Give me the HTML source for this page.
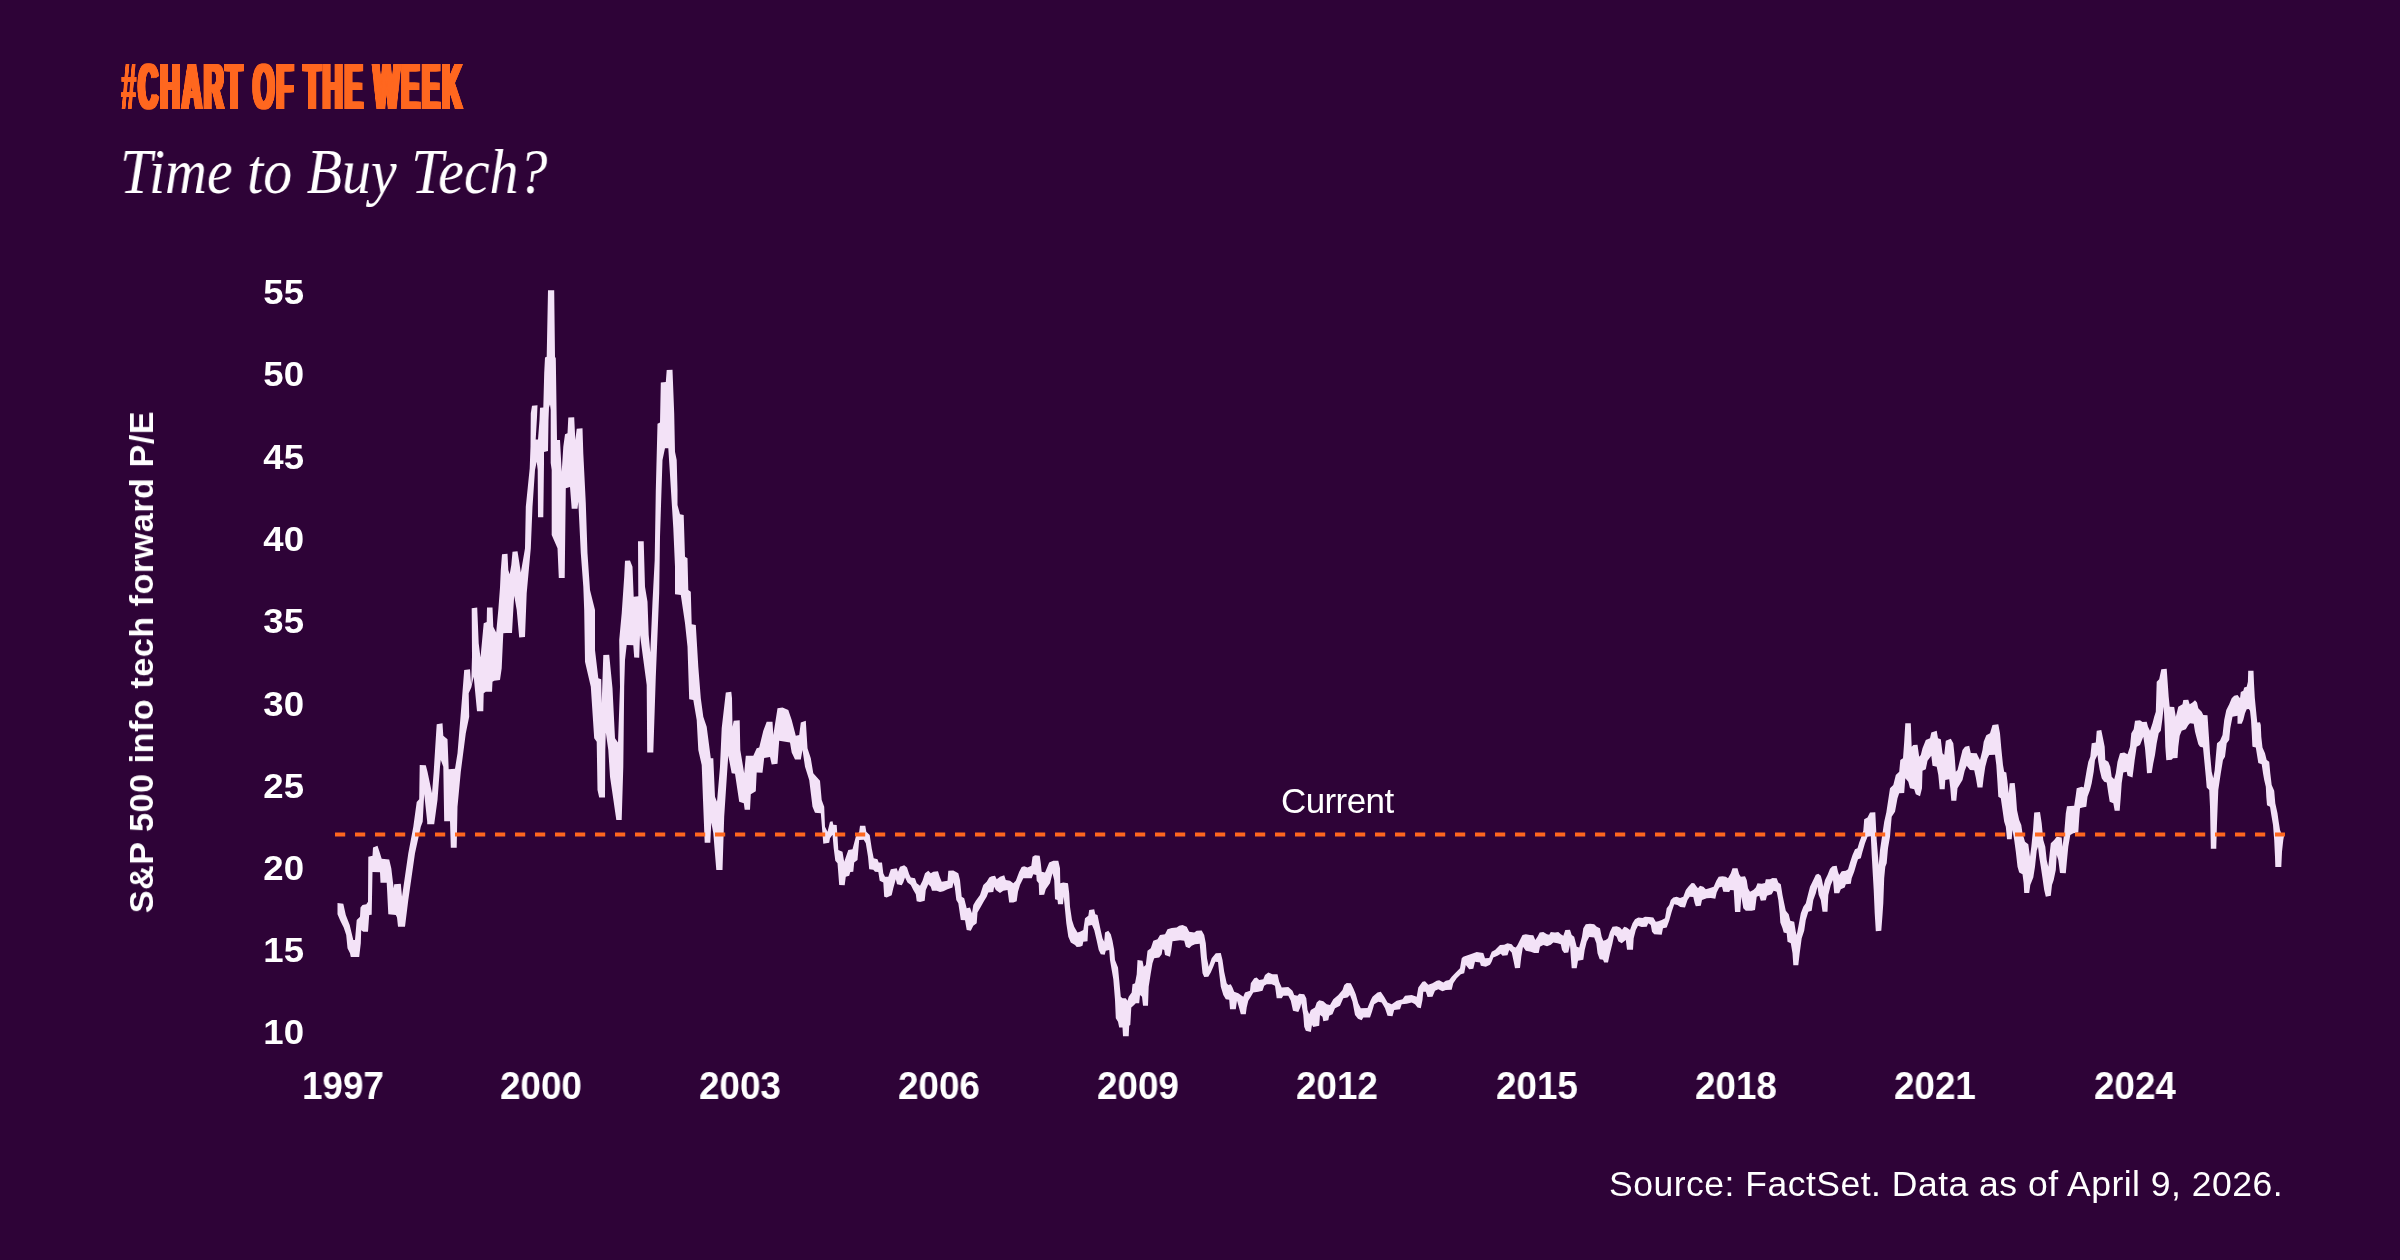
<!DOCTYPE html>
<html>
<head>
<meta charset="utf-8">
<title>Chart of the Week</title>
<style>
html,body{margin:0;padding:0;}
body{width:2400px;height:1260px;background:#2e0337;overflow:hidden;position:relative;font-family:"Liberation Sans",sans-serif;color:#fff;}
.abs{position:absolute;white-space:nowrap;line-height:1;will-change:transform;}
#kicker{left:121px;top:55px;font-size:64px;font-weight:bold;color:#ff671f;transform-origin:0 0;transform:scaleX(0.4265);letter-spacing:5px;word-spacing:-2.5px;text-shadow:2.5px 0 0 #ff671f,-2.5px 0 0 #ff671f,5px 0 0 #ff671f,-5px 0 0 #ff671f;}
#title{left:120px;top:139.6px;font-family:"Liberation Serif",serif;font-style:italic;font-size:64px;color:#fff;transform-origin:0 0;transform:scaleX(0.905);}
.yl{width:60px;text-align:right;left:243.5px;font-size:35px;font-weight:bold;transform:scaleX(1.045);transform-origin:100% 50%;margin-top:-0.1px;}
.xl{width:120px;text-align:center;font-size:38px;font-weight:bold;top:1066.5px;transform:scaleX(0.97);margin-left:-0.5px;}
#ytitle{left:141px;top:661.5px;font-size:34px;font-weight:bold;letter-spacing:0.6px;transform:translate(-50%,-50%) rotate(-90deg);}
#cur{left:1281px;top:782.5px;font-size:35px;letter-spacing:-0.6px;}
#src{left:1609px;top:1167px;font-size:35.5px;letter-spacing:0.5px;}
svg{position:absolute;left:0;top:0;}
</style>
</head>
<body>
<div id="kicker" class="abs"><span style="text-shadow:2px 0 0 #ff671f,-2px 0 0 #ff671f">#</span>CHART OF THE WEEK</div>
<div id="title" class="abs">Time to Buy Tech?</div>
<div id="ytitle" class="abs">S&amp;P 500 info tech forward P/E</div>
<div class="abs yl" style="top:274px">55</div>
<div class="abs yl" style="top:356px">50</div>
<div class="abs yl" style="top:439px">45</div>
<div class="abs yl" style="top:521px">40</div>
<div class="abs yl" style="top:603px">35</div>
<div class="abs yl" style="top:686px">30</div>
<div class="abs yl" style="top:768px">25</div>
<div class="abs yl" style="top:850px">20</div>
<div class="abs yl" style="top:932px">15</div>
<div class="abs yl" style="top:1014px">10</div>
<div class="abs xl" style="left:283px">1997</div>
<div class="abs xl" style="left:481px">2000</div>
<div class="abs xl" style="left:680px">2003</div>
<div class="abs xl" style="left:879px">2006</div>
<div class="abs xl" style="left:1078px">2009</div>
<div class="abs xl" style="left:1277px">2012</div>
<div class="abs xl" style="left:1477px">2015</div>
<div class="abs xl" style="left:1676px">2018</div>
<div class="abs xl" style="left:1875px">2021</div>
<div class="abs xl" style="left:2075px">2024</div>
<div id="cur" class="abs">Current</div>
<div id="src" class="abs">Source: FactSet. Data as of April 9, 2026.</div>
<svg width="2400" height="1260" viewBox="0 0 2400 1260">
<polygon fill="#f3e2f7" stroke="none" points="337.5,903.0 343.3,903.7 345.8,915.0 349.7,925.0 353.3,940.0 355.0,940.0 356.7,920.0 360.0,916.7 360.5,907.5 362.5,905.0 366.3,904.2 368.0,901.7 368.3,856.7 372.5,855.8 373.0,847.5 377.5,845.8 379.5,851.7 381.7,858.7 389.2,859.5 391.3,868.3 393.7,888.3 394.2,884.2 400.8,883.7 402.0,896.7 408.3,853.3 413.3,826.7 416.7,802.0 419.2,799.2 419.7,765.0 425.8,765.3 427.5,771.7 432.0,793.3 433.7,771.7 435.8,738.3 436.7,724.2 442.5,723.3 443.3,735.8 447.5,739.2 448.7,769.2 455.0,768.7 457.5,753.3 460.5,716.7 462.0,698.3 464.2,670.0 470.0,669.2 471.2,684.7 472.0,656.7 471.7,608.3 477.2,607.5 478.7,643.3 480.5,657.5 483.7,623.3 486.7,622.0 487.0,607.5 492.5,607.5 493.3,626.7 496.2,632.5 498.3,610.0 500.0,587.5 500.8,570.0 502.0,554.2 507.5,553.8 508.3,570.0 509.7,574.2 511.3,565.0 512.5,551.7 517.5,551.3 519.2,561.7 520.8,572.5 523.3,558.3 525.0,548.3 525.8,506.7 529.7,468.3 530.5,446.7 530.8,413.3 532.0,405.8 537.5,405.3 537.0,417.0 535.7,439.5 538.0,439.5 539.5,420.0 540.0,407.8 543.3,407.5 544.2,373.3 545.0,357.5 546.7,356.7 548.0,290.3 554.2,290.3 555.0,356.7 555.8,358.3 557.0,440.0 560.0,440.0 561.7,471.7 563.3,446.7 565.0,434.2 567.5,433.3 568.3,417.5 574.2,417.2 575.3,440.0 576.7,428.7 582.5,428.3 583.3,453.3 585.8,503.3 587.5,553.3 590.0,590.0 595.0,610.0 595.0,650.0 598.3,678.3 601.2,679.2 601.7,703.3 603.3,655.0 609.2,654.7 612.5,688.3 615.0,738.3 618.0,742.5 620.0,686.7 619.2,640.0 621.7,613.3 624.2,576.7 625.0,560.8 630.0,560.5 632.5,566.7 633.7,596.7 638.3,596.3 638.0,541.3 643.7,541.3 645.0,586.7 647.5,601.7 648.7,635.0 650.3,652.5 652.5,601.7 654.7,560.0 655.8,490.0 657.5,423.7 660.0,422.5 660.8,382.5 665.8,382.0 666.7,370.0 672.5,369.7 674.2,413.3 675.0,451.7 676.7,460.0 677.5,490.0 677.5,505.0 680.0,514.2 683.7,515.0 685.0,556.7 687.5,558.3 688.3,590.0 690.8,591.7 691.7,624.2 695.8,625.0 698.3,666.7 700.8,698.3 703.3,716.7 706.7,726.7 710.8,758.3 713.3,758.3 715.0,796.7 717.0,801.7 720.0,766.7 721.7,728.3 725.8,692.5 731.3,691.7 732.0,698.3 732.5,726.7 733.7,720.8 739.7,720.3 740.3,750.0 744.2,773.3 745.8,755.8 753.3,755.8 756.7,748.3 759.2,747.5 763.3,730.8 766.7,721.7 772.5,721.7 773.3,735.0 777.5,708.3 782.5,707.5 788.3,710.0 791.7,720.0 795.8,735.8 799.2,735.0 800.8,722.5 805.8,720.8 807.5,748.3 810.8,758.3 813.3,773.3 820.0,780.8 821.7,800.0 824.2,806.7 825.0,826.7 827.5,831.7 830.0,821.7 832.5,821.3 833.3,824.7 836.7,825.0 837.5,836.7 838.3,850.0 842.5,851.7 844.2,861.7 848.3,850.0 852.5,849.2 855.8,836.7 859.2,831.7 860.0,825.8 865.3,825.8 866.3,831.7 869.7,835.0 871.7,848.3 873.7,858.3 877.5,859.2 878.7,862.5 882.0,862.5 883.3,873.3 885.0,876.7 888.3,876.7 890.8,869.2 896.7,868.3 898.0,871.7 900.0,866.7 904.2,865.3 907.0,867.5 909.2,874.2 910.8,877.5 915.0,878.3 916.7,883.3 920.0,885.8 922.5,880.8 925.0,873.3 928.3,870.8 930.8,873.3 933.3,871.7 938.0,871.3 939.7,876.7 941.7,881.7 947.5,880.8 948.3,870.8 953.3,870.5 958.3,873.3 960.0,880.0 961.7,896.7 964.2,898.3 966.7,908.3 970.0,907.5 972.0,913.3 973.3,905.0 975.8,900.8 980.0,895.0 983.3,885.0 986.7,881.7 989.2,877.5 991.7,876.2 995.0,875.8 996.7,879.2 1000.0,876.7 1004.2,875.3 1005.8,880.0 1010.0,880.8 1013.3,883.3 1015.8,880.8 1019.2,871.7 1021.7,867.0 1024.2,866.3 1027.5,867.5 1031.3,865.8 1032.5,856.7 1035.0,855.3 1039.7,855.8 1040.8,863.3 1041.7,871.7 1045.0,872.5 1049.2,862.5 1053.3,860.8 1058.3,860.8 1060.0,868.3 1060.3,883.3 1063.3,882.5 1068.0,883.3 1069.2,893.3 1070.0,906.7 1072.0,920.0 1074.2,926.7 1077.5,932.5 1080.0,931.7 1083.3,930.0 1085.0,918.3 1088.3,915.8 1089.2,910.0 1094.2,909.2 1095.3,914.2 1097.5,915.0 1099.2,923.3 1100.8,930.8 1102.5,938.3 1104.2,941.7 1105.0,932.5 1108.3,930.8 1110.8,934.2 1112.5,940.8 1114.2,950.0 1115.0,960.0 1118.0,967.5 1119.2,980.0 1120.8,996.7 1122.5,998.3 1125.8,998.3 1127.5,1000.8 1128.7,996.7 1131.7,992.5 1132.5,984.2 1135.0,983.3 1136.7,974.2 1137.5,960.0 1142.5,960.8 1143.7,966.7 1145.8,965.0 1147.5,950.8 1150.8,948.3 1153.3,940.8 1157.5,939.2 1160.0,935.0 1165.0,934.2 1167.5,929.2 1171.7,928.0 1176.7,927.5 1179.2,925.8 1182.5,925.0 1186.7,926.7 1189.2,931.7 1194.2,932.5 1196.7,930.8 1201.7,930.5 1204.2,935.0 1205.8,943.3 1207.0,958.3 1208.7,966.7 1211.7,958.3 1215.8,953.3 1220.8,953.0 1222.5,960.0 1224.2,971.7 1226.7,983.3 1228.3,985.0 1230.8,984.2 1232.5,987.5 1234.2,991.7 1238.3,993.3 1240.8,995.0 1243.3,996.7 1245.0,992.5 1250.0,990.8 1250.8,983.3 1254.2,978.3 1256.7,977.5 1259.2,980.0 1263.3,979.2 1265.0,975.0 1268.3,972.5 1272.5,974.2 1277.5,974.2 1279.2,981.7 1281.7,987.5 1288.3,987.0 1292.5,990.8 1294.2,995.0 1297.5,995.8 1299.2,993.7 1304.2,994.2 1306.3,998.3 1307.5,1010.0 1309.2,1014.2 1310.8,1010.0 1315.0,1007.5 1316.7,1002.5 1319.2,1000.3 1323.3,1001.3 1326.7,1004.2 1330.0,1005.0 1333.3,999.2 1338.3,995.0 1342.5,990.0 1344.2,985.0 1346.7,983.0 1350.8,983.3 1353.3,988.3 1355.8,994.2 1358.3,1003.3 1360.8,1008.3 1367.5,1008.0 1370.8,1000.0 1372.5,996.7 1377.5,992.5 1380.8,991.7 1384.2,996.7 1387.5,1002.5 1391.7,1004.2 1396.7,1000.8 1402.5,999.2 1405.0,995.8 1411.7,995.0 1416.7,996.7 1418.3,987.5 1422.5,981.7 1425.0,981.3 1428.3,984.7 1432.5,983.3 1436.7,980.8 1439.2,980.3 1443.3,982.5 1445.8,980.8 1449.2,980.0 1451.7,976.7 1455.8,972.5 1460.0,968.3 1461.7,958.3 1463.3,956.7 1468.3,955.0 1473.3,953.3 1476.7,952.0 1480.0,952.5 1483.3,953.0 1485.0,958.3 1489.2,958.0 1491.7,951.7 1495.0,950.0 1497.5,947.5 1500.0,945.0 1504.2,944.7 1507.5,943.3 1511.7,944.2 1513.7,946.7 1515.8,947.5 1517.5,945.0 1520.0,940.0 1522.5,935.0 1525.8,934.2 1530.0,935.0 1533.3,935.3 1535.3,940.0 1537.5,936.7 1539.7,932.5 1543.3,932.0 1547.0,934.2 1549.2,934.7 1550.8,932.0 1555.0,932.5 1558.3,932.0 1560.8,934.2 1563.3,935.8 1565.3,930.0 1570.0,929.7 1571.7,935.0 1574.2,936.7 1576.7,946.7 1579.2,947.5 1582.0,936.7 1583.3,928.3 1585.8,924.2 1590.0,923.7 1594.2,924.2 1596.7,926.7 1600.0,928.3 1601.7,936.7 1603.3,940.8 1605.8,940.0 1608.0,938.3 1610.0,931.7 1612.5,926.7 1616.7,926.3 1620.0,927.5 1622.0,929.7 1624.2,926.7 1626.7,927.5 1630.0,930.0 1632.5,923.3 1635.0,919.2 1638.3,917.5 1642.5,918.0 1645.0,916.7 1649.2,917.0 1653.3,917.5 1655.8,921.7 1658.3,921.3 1661.7,920.0 1665.0,918.3 1666.7,908.3 1669.2,905.0 1670.8,900.0 1673.3,897.5 1676.7,896.7 1680.0,898.0 1683.3,896.7 1685.8,890.0 1688.3,886.7 1691.7,883.0 1694.2,883.3 1696.7,886.7 1698.0,888.3 1700.0,885.8 1703.3,886.7 1705.8,889.2 1710.0,888.0 1713.7,886.7 1716.3,880.8 1718.7,876.7 1722.5,876.3 1725.8,876.7 1728.0,878.3 1730.8,873.3 1732.5,868.3 1737.5,868.3 1739.2,874.2 1740.8,876.7 1745.0,876.3 1746.7,880.0 1748.0,888.3 1750.0,891.7 1753.3,890.0 1755.8,887.5 1757.5,883.3 1761.7,883.7 1765.0,883.0 1765.8,879.2 1770.0,879.2 1772.5,878.0 1776.7,878.3 1778.3,882.5 1780.8,884.2 1782.5,895.0 1784.2,903.3 1785.8,910.8 1788.7,914.2 1790.3,920.8 1794.2,921.7 1795.8,931.7 1796.7,935.0 1798.3,926.7 1800.8,913.3 1803.3,906.7 1805.8,903.3 1808.3,893.3 1810.0,886.7 1813.3,880.0 1815.8,874.7 1818.3,873.7 1820.8,875.8 1822.0,880.0 1823.3,886.7 1825.0,880.0 1827.5,875.0 1830.0,868.7 1832.5,866.3 1836.7,865.8 1838.0,871.7 1839.2,875.0 1841.7,871.3 1845.8,870.8 1848.0,869.2 1850.0,862.5 1852.5,855.0 1855.0,849.2 1857.5,848.3 1859.2,842.5 1860.8,838.3 1863.3,830.8 1864.2,819.2 1867.5,817.5 1870.0,812.5 1875.3,812.2 1876.7,840.0 1878.7,865.0 1880.0,850.0 1884.2,821.7 1886.3,812.5 1890.0,788.3 1893.3,785.0 1895.8,775.0 1899.2,771.7 1900.3,760.0 1903.0,758.3 1904.2,741.7 1905.3,723.3 1910.8,723.3 1911.7,746.7 1913.3,745.0 1917.5,744.7 1919.2,756.7 1920.8,755.0 1922.5,748.3 1925.8,740.0 1930.0,738.3 1931.3,732.5 1936.7,730.8 1938.0,738.3 1940.8,739.2 1942.5,753.3 1944.2,755.0 1945.8,740.8 1950.8,738.7 1953.3,743.3 1954.7,756.7 1955.8,771.7 1957.5,770.0 1960.0,760.0 1962.5,750.0 1965.0,746.7 1969.2,745.8 1970.8,753.0 1976.7,753.3 1978.3,756.7 1980.0,760.0 1982.5,750.0 1983.7,741.7 1986.3,735.3 1990.0,733.3 1992.5,725.0 1998.3,724.2 2000.0,733.3 2001.3,748.3 2003.0,765.0 2004.2,771.7 2006.3,772.5 2007.5,781.7 2008.7,793.3 2009.7,783.3 2014.7,783.0 2015.8,793.3 2017.0,810.0 2019.2,820.0 2021.3,825.0 2022.5,833.3 2025.0,841.7 2028.3,844.2 2030.0,856.7 2031.3,846.7 2033.0,830.0 2034.2,812.5 2040.0,812.0 2041.7,823.3 2043.3,840.0 2045.3,846.7 2046.7,860.0 2048.3,866.7 2049.7,853.3 2050.8,843.3 2054.2,840.0 2056.7,836.7 2061.7,837.5 2062.5,846.7 2064.2,833.3 2065.8,813.3 2067.0,806.3 2074.2,805.8 2075.8,795.0 2076.7,788.3 2081.7,786.7 2083.7,787.5 2085.0,780.0 2086.7,770.0 2088.3,761.7 2090.3,756.7 2091.7,743.3 2095.8,742.5 2096.7,730.8 2101.3,730.0 2103.0,738.3 2104.7,746.7 2105.3,760.0 2108.3,761.7 2110.3,766.7 2111.7,776.7 2114.2,779.2 2115.8,773.3 2117.5,761.7 2120.0,753.3 2124.2,752.5 2127.5,754.2 2130.0,746.7 2131.3,733.3 2133.7,729.2 2135.0,720.8 2140.0,720.3 2142.5,722.0 2146.7,721.7 2148.0,726.7 2150.0,730.8 2152.5,723.3 2154.2,716.7 2155.8,711.7 2156.7,681.7 2159.2,679.2 2161.3,669.2 2166.7,668.8 2167.5,680.0 2168.7,696.7 2169.7,706.7 2174.2,707.0 2175.8,716.7 2178.3,706.7 2182.5,704.2 2183.3,700.0 2188.3,699.7 2189.7,704.2 2192.5,702.5 2195.0,700.3 2197.0,702.5 2198.3,708.3 2201.7,711.7 2203.3,715.0 2207.5,715.3 2208.7,733.3 2210.0,753.3 2211.7,771.7 2213.3,778.3 2214.7,770.0 2215.8,756.7 2217.0,743.3 2220.0,740.8 2222.5,735.0 2224.2,720.0 2226.3,710.0 2229.2,704.2 2231.7,698.3 2234.2,695.8 2237.5,695.0 2240.0,698.3 2240.8,692.1 2243.3,690.8 2244.2,687.5 2246.7,686.7 2247.9,681.7 2248.2,670.7 2253.5,670.7 2254.0,683.3 2254.8,697.5 2255.7,706.7 2256.5,715.0 2257.3,722.5 2260.0,722.3 2260.8,725.0 2261.3,736.7 2262.5,747.5 2265.0,753.3 2266.7,760.0 2269.2,761.7 2270.3,773.3 2271.7,785.0 2274.2,790.8 2275.3,803.3 2277.5,813.3 2278.7,821.7 2280.0,830.0 2281.7,834.2 2284.2,835.0 2284.2,835.0 2283.3,840.0 2282.0,851.7 2281.3,867.0 2275.3,867.0 2275.0,856.7 2274.2,840.0 2273.0,825.0 2271.3,815.0 2270.0,806.7 2267.0,805.3 2266.3,796.7 2265.8,786.7 2264.2,780.0 2263.0,773.3 2261.7,764.2 2258.3,763.0 2257.0,755.0 2255.8,747.5 2252.5,746.7 2252.3,745.0 2251.7,731.7 2251.0,720.0 2250.0,710.8 2248.8,709.0 2246.7,709.2 2245.0,713.3 2243.3,720.0 2241.7,723.8 2237.5,723.8 2237.5,715.8 2232.5,716.7 2230.3,728.3 2229.2,740.0 2226.7,743.3 2225.0,756.7 2223.0,760.0 2220.8,773.3 2218.3,790.0 2217.0,823.3 2216.3,846.7 2216.3,848.7 2210.8,848.7 2210.8,846.7 2210.0,806.7 2209.2,790.0 2206.7,787.5 2205.8,776.7 2204.2,760.0 2203.0,747.5 2200.0,746.7 2198.3,744.2 2196.7,738.3 2195.0,731.7 2193.7,723.7 2190.0,723.3 2188.3,725.0 2185.8,729.2 2181.7,730.8 2179.7,735.8 2178.3,746.7 2177.5,758.0 2173.0,758.3 2171.7,759.7 2166.3,760.3 2165.3,746.7 2164.7,726.7 2163.7,706.7 2162.5,718.3 2160.8,730.8 2158.7,733.3 2156.7,743.3 2155.0,755.0 2153.3,763.3 2151.7,773.0 2147.0,773.3 2146.3,763.3 2145.0,748.3 2143.3,736.7 2142.0,740.0 2140.0,745.0 2136.7,746.7 2134.7,760.0 2133.7,768.3 2132.5,777.5 2127.5,775.8 2126.7,771.7 2123.3,772.5 2121.7,783.3 2120.8,796.7 2119.7,810.8 2114.7,810.8 2113.3,803.3 2109.7,801.7 2108.3,793.3 2106.7,782.5 2104.2,781.7 2101.7,778.3 2099.7,770.0 2098.3,761.7 2097.5,755.0 2095.0,760.0 2093.7,771.7 2091.7,783.3 2090.0,790.0 2087.5,796.7 2086.3,806.7 2082.5,807.5 2080.0,808.3 2079.2,818.3 2078.3,832.5 2073.3,833.3 2070.3,835.0 2068.3,846.7 2067.0,860.0 2065.8,873.3 2060.0,873.0 2058.3,860.0 2056.7,855.0 2055.8,870.0 2053.7,880.0 2052.0,885.0 2050.8,895.8 2045.8,896.7 2044.2,890.0 2042.5,878.3 2040.8,866.7 2039.2,856.7 2038.0,846.7 2036.7,850.8 2035.0,866.7 2033.3,877.5 2030.3,885.0 2029.2,893.0 2024.2,893.0 2023.7,883.3 2022.5,874.2 2019.2,872.5 2017.5,866.7 2015.8,851.7 2014.2,840.0 2012.5,830.0 2011.7,839.2 2007.0,839.2 2005.8,826.7 2004.2,821.7 2002.5,810.0 2000.8,798.3 1998.3,796.7 1997.5,783.3 1996.3,765.0 1995.0,754.7 1989.2,755.0 1987.5,758.3 1985.3,766.7 1983.7,777.5 1982.5,787.5 1977.5,787.5 1975.8,777.5 1974.2,770.3 1970.0,770.0 1966.7,765.8 1964.7,770.8 1962.5,780.0 1957.5,788.3 1956.3,800.8 1951.3,800.8 1950.3,788.3 1949.2,779.2 1945.3,780.0 1944.7,789.2 1939.7,789.2 1938.3,775.0 1936.7,766.7 1932.5,765.8 1931.3,755.8 1927.5,760.8 1925.8,769.2 1922.5,770.8 1922.0,788.3 1920.0,796.3 1915.8,794.2 1914.2,789.2 1910.0,788.3 1908.3,781.7 1905.3,778.3 1904.2,793.0 1899.2,793.3 1897.5,798.3 1895.0,811.7 1891.7,816.7 1890.0,836.7 1888.0,848.3 1886.7,863.3 1885.3,866.7 1884.2,878.3 1883.3,903.3 1882.5,915.0 1881.3,930.8 1875.8,931.3 1874.7,913.3 1873.7,890.0 1872.5,869.2 1871.7,855.0 1870.8,836.3 1867.5,836.7 1865.0,843.3 1862.5,851.7 1860.8,858.3 1858.0,859.2 1856.7,863.3 1854.2,871.7 1851.7,878.3 1850.8,883.7 1845.8,884.2 1844.7,887.5 1840.8,889.2 1839.2,893.3 1834.2,893.3 1833.0,880.0 1830.8,885.0 1828.3,895.0 1827.5,911.7 1822.5,911.7 1820.8,900.0 1818.7,895.0 1817.5,886.7 1815.8,893.3 1813.3,900.0 1811.7,910.8 1808.3,911.7 1805.8,920.0 1804.2,930.8 1801.7,938.3 1799.7,953.3 1798.3,965.3 1793.3,965.3 1792.5,953.3 1790.8,943.3 1787.5,941.7 1786.7,933.3 1783.7,932.5 1782.5,928.3 1780.3,922.5 1779.7,913.3 1778.3,900.0 1776.7,891.7 1773.7,890.8 1771.7,894.2 1767.0,895.8 1765.8,900.3 1760.8,900.8 1759.2,895.8 1756.7,896.7 1755.0,910.0 1751.7,910.8 1745.8,910.8 1743.3,908.3 1741.3,896.7 1740.3,912.0 1735.0,912.0 1733.7,890.3 1730.3,890.0 1729.2,892.0 1723.3,891.7 1722.0,886.7 1719.2,887.5 1716.7,892.5 1715.3,898.7 1710.8,898.0 1706.7,898.3 1702.0,900.0 1700.8,905.8 1695.8,906.3 1694.7,903.3 1693.3,897.0 1689.7,896.7 1687.5,900.0 1685.0,907.5 1680.3,907.0 1677.5,905.0 1674.2,904.2 1671.7,911.7 1669.2,920.8 1666.7,927.5 1663.0,928.3 1661.7,934.7 1654.2,934.2 1652.0,931.7 1650.8,925.0 1648.3,923.3 1646.7,926.7 1641.7,927.0 1638.0,925.8 1635.8,930.0 1633.7,938.3 1633.0,949.7 1627.0,949.7 1625.8,940.0 1621.7,943.3 1618.3,941.3 1616.7,936.7 1614.2,935.0 1612.5,943.3 1610.0,953.3 1608.0,962.5 1604.2,962.5 1603.0,959.7 1599.7,959.2 1597.5,953.3 1596.3,943.3 1594.2,937.5 1589.2,937.0 1586.7,941.7 1584.7,950.0 1583.3,959.7 1578.0,960.8 1576.7,968.3 1571.7,968.3 1570.8,956.7 1570.0,945.0 1568.3,952.5 1564.2,953.0 1562.0,950.0 1560.8,944.2 1557.5,943.3 1553.3,942.5 1550.8,944.7 1547.0,946.3 1543.3,945.0 1540.0,946.7 1538.7,953.0 1534.2,953.0 1530.8,951.7 1525.8,950.8 1523.0,946.7 1521.3,956.7 1520.0,968.0 1515.0,968.3 1513.7,961.7 1511.7,952.5 1509.2,950.0 1507.5,955.3 1502.5,955.8 1500.8,953.7 1497.5,955.8 1493.3,957.5 1491.7,961.7 1490.0,964.7 1485.8,966.7 1480.8,965.8 1480.0,962.5 1475.0,961.7 1473.3,968.7 1469.2,969.2 1465.8,965.0 1464.2,973.3 1460.8,974.2 1456.7,978.3 1453.3,983.3 1451.7,989.7 1445.8,990.0 1442.5,991.3 1438.3,989.2 1435.0,990.8 1432.5,996.7 1427.5,997.0 1425.8,991.7 1423.3,991.7 1422.5,1000.0 1420.8,1008.3 1417.5,1007.5 1415.0,1004.2 1411.7,1002.5 1406.7,1003.7 1401.7,1004.2 1400.0,1009.2 1394.2,1010.0 1392.5,1016.3 1387.5,1015.8 1385.0,1008.3 1381.7,1002.5 1378.3,1001.7 1374.2,1004.2 1372.0,1011.7 1370.0,1017.5 1363.3,1017.5 1361.7,1020.3 1358.0,1018.7 1355.0,1015.0 1352.5,1001.7 1350.0,995.0 1347.5,997.5 1343.3,998.3 1340.0,1005.8 1335.0,1008.3 1332.5,1014.2 1329.2,1015.8 1328.3,1020.3 1323.3,1021.3 1322.5,1016.7 1320.0,1015.0 1319.2,1025.8 1313.3,1027.0 1312.0,1025.0 1310.8,1032.0 1305.8,1030.8 1304.2,1026.7 1303.3,1015.0 1301.3,1003.3 1300.3,1007.5 1298.3,1012.0 1293.0,1010.8 1290.8,1000.8 1288.3,995.8 1283.3,995.8 1281.7,998.3 1276.7,998.3 1275.0,985.8 1271.7,984.2 1266.7,984.2 1264.2,985.8 1262.5,990.8 1258.3,991.7 1253.3,992.5 1250.8,996.7 1248.3,1000.8 1246.7,1007.5 1245.8,1014.2 1240.8,1014.2 1239.2,1008.3 1237.0,1000.8 1235.8,1009.2 1230.0,1009.2 1229.2,999.7 1225.8,999.2 1223.3,995.0 1220.8,986.7 1219.2,973.3 1218.0,962.0 1215.3,961.7 1213.3,966.7 1210.8,972.5 1208.3,976.7 1204.2,977.0 1202.5,973.3 1200.8,956.7 1199.7,943.7 1195.0,944.2 1191.7,945.8 1189.2,948.3 1185.8,946.7 1184.2,940.8 1180.0,940.3 1172.5,941.3 1171.3,950.0 1170.0,956.7 1165.0,955.0 1164.2,950.0 1162.5,949.2 1161.7,954.2 1159.2,957.5 1154.2,958.3 1152.5,963.3 1150.8,973.3 1148.7,986.7 1148.0,1005.8 1143.0,1005.8 1142.0,996.7 1140.0,995.0 1139.2,1003.3 1135.8,1003.3 1133.3,1005.8 1131.3,1007.5 1130.3,1025.0 1129.2,1025.8 1128.7,1036.3 1123.0,1036.3 1122.5,1027.5 1119.2,1027.5 1118.0,1021.7 1115.8,1018.3 1115.0,1000.0 1113.3,979.2 1111.7,970.0 1110.0,960.0 1109.2,950.0 1105.8,950.8 1104.7,954.7 1100.8,954.2 1098.7,950.0 1096.7,940.8 1094.2,930.0 1092.0,925.0 1088.3,925.8 1087.5,941.3 1083.3,941.7 1082.5,945.8 1080.0,946.7 1076.7,947.0 1075.0,945.0 1070.8,942.5 1068.3,936.7 1066.3,923.3 1064.7,906.7 1063.7,896.7 1063.0,904.2 1058.0,904.2 1057.5,900.0 1055.0,899.2 1054.2,880.0 1052.5,873.3 1050.0,883.3 1045.8,889.2 1044.2,894.7 1039.2,895.0 1038.7,883.3 1036.7,880.8 1036.3,875.0 1033.3,874.2 1031.7,878.3 1023.3,878.3 1020.0,885.0 1018.0,891.7 1016.7,901.3 1013.3,902.5 1009.2,902.5 1007.5,890.0 1003.3,890.8 1000.0,893.0 995.8,890.0 994.2,886.7 993.3,892.0 988.3,892.5 986.7,896.7 984.2,900.8 980.0,908.3 977.5,912.5 976.7,923.3 973.3,925.8 970.8,930.8 966.7,930.0 965.0,920.3 960.8,920.0 958.3,903.3 956.3,900.0 954.7,886.7 953.3,882.5 952.5,887.5 947.5,889.2 943.3,891.3 940.0,892.0 936.7,890.8 932.0,890.8 930.8,886.7 928.3,884.2 925.8,890.0 924.7,900.8 920.0,902.0 916.7,901.3 915.8,894.2 913.3,890.0 910.8,885.0 907.5,882.5 905.0,877.5 903.3,882.5 901.7,885.3 897.0,884.2 895.8,879.2 893.3,888.3 891.7,895.3 886.7,897.5 884.2,896.7 883.3,882.5 879.7,880.8 878.3,872.0 875.0,871.7 873.3,869.7 869.2,869.2 868.0,856.7 865.8,843.3 863.7,839.7 859.2,840.0 857.5,860.0 854.2,862.5 853.3,871.7 850.3,872.0 849.2,875.8 845.8,876.7 844.7,885.3 839.2,885.0 837.5,863.3 835.3,860.8 833.7,848.3 832.5,834.7 830.0,838.3 829.2,842.8 823.3,843.7 820.8,813.3 815.0,812.8 812.5,806.7 809.2,780.0 805.0,766.7 802.5,750.0 800.8,759.5 795.0,759.5 791.7,752.5 790.0,742.5 779.2,740.8 777.5,763.7 771.7,764.5 770.0,757.0 764.2,758.0 762.5,772.8 756.7,772.5 755.8,791.3 750.8,794.2 750.0,809.7 744.7,809.7 743.8,803.3 739.2,801.7 735.0,773.7 731.7,773.3 728.3,755.8 727.5,766.7 724.2,816.7 722.5,870.0 716.3,870.0 713.3,833.3 711.3,822.5 710.3,842.8 704.7,842.8 703.0,800.0 701.7,765.0 698.3,750.0 696.7,720.0 693.3,700.0 689.2,699.2 687.5,646.7 685.0,623.3 680.8,595.0 675.0,594.2 675.0,566.7 673.3,528.3 670.0,475.0 668.3,448.3 667.5,448.3 665.0,448.3 662.5,460.0 660.0,536.7 659.2,593.3 655.8,676.7 653.3,752.5 647.2,752.5 646.7,685.0 640.0,635.0 639.2,657.8 634.2,657.5 633.3,645.3 626.7,645.0 625.0,660.0 624.2,686.7 623.3,766.7 621.7,820.0 616.3,820.0 613.3,799.2 610.0,776.7 608.3,750.0 605.8,732.5 605.3,750.0 605.0,797.5 599.2,797.5 597.5,790.0 596.7,741.7 594.2,738.3 590.8,686.7 585.0,661.7 584.2,610.0 583.3,586.7 580.8,553.3 578.3,501.7 577.5,508.7 571.7,508.7 570.0,487.0 565.8,488.3 564.7,578.0 558.8,578.0 557.5,548.3 551.7,535.0 551.7,470.0 550.7,463.0 550.7,410.0 550.0,404.5 549.0,407.5 548.5,420.0 548.0,451.0 544.0,452.0 544.0,463.0 543.3,517.2 538.0,517.2 537.7,470.0 536.7,461.7 535.0,470.0 532.5,506.7 530.8,548.3 526.7,593.3 525.0,637.0 519.2,637.5 516.7,610.0 514.2,595.8 513.3,610.0 512.0,633.0 506.3,633.0 503.3,633.3 501.7,668.3 500.0,680.0 494.2,680.8 492.5,681.7 492.0,691.7 485.8,691.7 483.7,693.3 483.3,711.3 477.0,711.3 473.7,676.7 471.3,687.5 468.7,693.3 469.2,716.7 465.8,733.3 460.8,771.7 457.5,806.7 456.7,847.8 450.8,847.8 450.0,821.2 444.2,821.2 443.3,766.7 440.8,760.0 440.0,766.7 437.5,800.0 434.2,824.2 427.2,824.2 427.2,821.8 424.2,794.0 422.7,821.8 420.8,826.7 415.0,853.3 408.3,900.0 405.0,926.7 398.0,926.7 397.0,917.5 395.8,915.0 388.3,914.2 386.7,882.8 380.5,882.8 380.0,872.3 372.5,872.0 371.7,914.7 369.2,915.0 368.0,931.7 363.3,931.7 361.2,930.3 360.8,943.3 359.2,957.0 350.8,957.0 350.0,953.3 347.5,948.3 346.2,935.0 343.7,927.5 340.3,920.8 337.5,914.2 337.5,903.0"/>
<line x1="335" y1="834.5" x2="2285" y2="834.5" stroke="#ff671f" stroke-width="4.2" stroke-dasharray="10.2 9.8"/>
</svg>
</body>
</html>
